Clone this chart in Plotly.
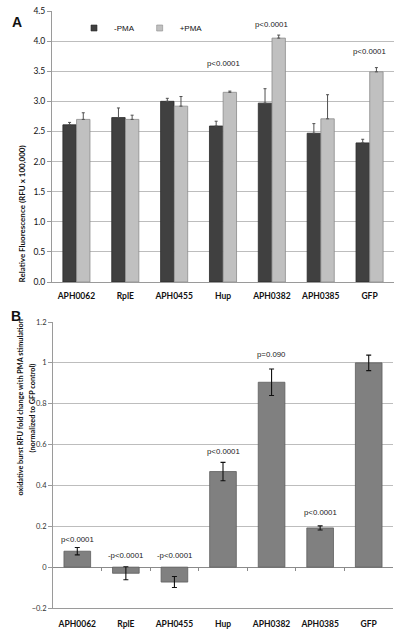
import plotly.graph_objects as go

W, H = 397, 631

categories = ["APH0062", "RplE", "APH0455", "Hup", "APH0382", "APH0385", "GFP"]

# Panel A: relative fluorescence (RFU x 100,000)
minus_pma = [2.61, 2.73, 3.00, 2.59, 2.97, 2.47, 2.31]
minus_pma_err = [0.04, 0.16, 0.05, 0.08, 0.24, 0.16, 0.06]
plus_pma = [2.70, 2.70, 2.92, 3.15, 4.05, 2.71, 3.49]
plus_pma_err = [0.11, 0.07, 0.16, 0.02, 0.05, 0.40, 0.07]

a_note_cats = ["Hup", "APH0382", "GFP"]
a_note_text = ["p<0.0001", "p<0.0001", "p<0.0001"]
a_note_y = [3.63, 4.28, 3.82]

# Panel B: fold change normalized to GFP control
fold_change = [0.078, -0.030, -0.073, 0.468, 0.905, 0.192, 1.0]
fold_err = [0.018, 0.032, 0.027, 0.045, 0.065, 0.010, 0.038]

b_note_text = ["p<0.0001", "-p<0.0001", "-p<0.0001", "p<0.0001", "p=0.090", "p<0.0001", ""]
b_note_y = [0.137, 0.059, 0.059, 0.566, 1.04, 0.268, None]

a_yticks = [0, 0.5, 1.0, 1.5, 2.0, 2.5, 3.0, 3.5, 4.0, 4.5]
b_yticks = [-0.2, 0, 0.2, 0.4, 0.6, 0.8, 1.0, 1.2]

def px_x(p):
    return p / W

def px_y(p):
    return 1 - p / H

A_dom_x = [px_x(52), px_x(394)]
A_dom_y = [px_y(282), px_y(11)]
B_dom_x = [px_x(53), px_x(393)]
B_dom_y = [px_y(608), px_y(322)]
B_range = [-0.2, 1.2]

DARK = "#404040"
LIGHT = "#c0c0c0"
MID = "#808080"
GRID = "#bdbdbd"
AXIS = "#9a9a9a"
FONT = "Lato"

fig = go.Figure()

fig.add_trace(go.Bar(
    x=categories, y=minus_pma, name="-PMA", xaxis="x", yaxis="y",
    marker=dict(color=DARK, line=dict(color="#2a2a2a", width=0.8)),
    error_y=dict(type="data", symmetric=False, array=minus_pma_err,
                 arrayminus=[0] * len(minus_pma_err), color="#505050",
                 thickness=1, width=1.5),
    showlegend=False,
))
fig.add_trace(go.Bar(
    x=categories, y=plus_pma, name="+PMA", xaxis="x", yaxis="y",
    marker=dict(color=LIGHT, line=dict(color="#8c8c8c", width=0.8)),
    error_y=dict(type="data", symmetric=False, array=plus_pma_err,
                 arrayminus=[0] * len(plus_pma_err), color="#505050",
                 thickness=1, width=1.5),
    showlegend=False,
))
# legend entries (small square swatches)
fig.add_trace(go.Scatter(
    x=[None], y=[None], mode="markers", name="-PMA", xaxis="x", yaxis="y",
    marker=dict(symbol="square", size=6, color=DARK, line=dict(color="#2a2a2a", width=0.6)),
))
fig.add_trace(go.Scatter(
    x=[None], y=[None], mode="markers", name="+PMA", xaxis="x", yaxis="y",
    marker=dict(symbol="square", size=6, color=LIGHT, line=dict(color="#8c8c8c", width=0.6)),
))

fig.add_trace(go.Bar(
    x=categories, y=fold_change, xaxis="x2", yaxis="y2",
    marker=dict(color=MID, line=dict(color="#5e5e5e", width=0.8)),
    error_y=dict(type="data", array=fold_err, color="#111111", thickness=1.1, width=2.5),
    showlegend=False,
))

# dummy trace so xaxis3 (tick marks on the zero line) is drawn
fig.add_trace(go.Scatter(x=categories, y=[None] * len(categories), xaxis="x3", yaxis="y2",
                         mode="markers", showlegend=False, hoverinfo="skip"))

tickfont_a = dict(family=FONT, size=8.5, color="#111")
catfont = dict(family=FONT, size=8.5, color="#111", weight="bold")
notefont = dict(family="Liberation Sans", size=7.8, color="#222")

fig.update_layout(
    template="none",
    width=W, height=H,
    margin=dict(l=0, r=0, t=0, b=0, pad=0, autoexpand=False),
    paper_bgcolor="white", plot_bgcolor="white",
    barmode="group", bargap=0.44, bargroupgap=0.02,
    font=dict(family=FONT, color="#222"),
    legend=dict(orientation="h", x=px_x(74), y=px_y(28), xanchor="left", yanchor="middle",
                font=dict(family="Liberation Sans", size=8, color="#111"),
                itemsizing="trace", bgcolor="rgba(0,0,0,0)", tracegroupgap=0),
    xaxis=dict(domain=A_dom_x, anchor="y", showgrid=False, showline=True, automargin=False,
               linecolor=AXIS, linewidth=1, ticks="", tickfont=catfont,
               ticklabelstandoff=6, zeroline=False),
    yaxis=dict(domain=A_dom_y, anchor="x", range=[0, 4.5], tickvals=a_yticks, automargin=False,
               tickformat=".1f", showgrid=True, gridcolor=GRID, gridwidth=1,
               showline=True, linecolor=AXIS, ticks="outside", ticklen=4,
               tickcolor=AXIS, tickfont=tickfont_a, zeroline=False),
    xaxis2=dict(domain=B_dom_x, anchor="y2", showgrid=False, showline=True, automargin=False,
                linecolor=AXIS, linewidth=1, ticks="", tickfont=catfont,
                ticklabelstandoff=8, zeroline=False),
    yaxis2=dict(domain=B_dom_y, anchor="x2", range=B_range, tickvals=b_yticks, automargin=False,
                showgrid=True, gridcolor=GRID, gridwidth=1,
                showline=True, linecolor=AXIS, ticks="outside", ticklen=4,
                tickcolor=AXIS, tickfont=dict(family=FONT, size=7.5, color="#333"),
                zeroline=True, zerolinecolor="#8a8a8a", zerolinewidth=1),
    xaxis3=dict(domain=B_dom_x, overlaying="x2", matches="x2", anchor="free", automargin=False,
                position=B_dom_y[0] + (0 - B_range[0]) / (B_range[1] - B_range[0]) * (B_dom_y[1] - B_dom_y[0]),
                showgrid=False, showline=False, showticklabels=False, zeroline=False,
                ticks="outside", ticklen=3, tickcolor="#8a8a8a",
                tickmode="array", tickvals=[i - 0.5 for i in range(1, len(categories))]),
)

ann = []
for c, t, yv in zip(a_note_cats, a_note_text, a_note_y):
    ann.append(dict(x=c, y=yv, xref="x", yref="y", text=t, showarrow=False, font=notefont))
for c, t, yv in zip(categories, b_note_text, b_note_y):
    if t and yv is not None:
        ann.append(dict(x=c, y=yv, xref="x2", yref="y2", text=t, showarrow=False, font=notefont))

ann += [
    dict(x=px_x(10), y=px_y(12), xref="paper", yref="paper", text="<b>A</b>",
         showarrow=False, font=dict(family="Liberation Sans", size=14, color="#111")),
    dict(x=px_x(9), y=px_y(316), xref="paper", yref="paper", text="<b>B</b>",
         showarrow=False, font=dict(family="Liberation Sans", size=14, color="#111")),
    dict(x=px_x(15), y=px_y(144), xref="paper", yref="paper",
         text="<b>Relative Fluorescence (RFU x 100,000)</b>", textangle=-90,
         showarrow=False, font=dict(family=FONT, size=8, color="#111")),
    dict(x=px_x(13), y=px_y(408), xref="paper", yref="paper",
         text="<b>oxidative burst RFU fold change with PMA stimulation</b>", textangle=-90,
         showarrow=False, font=dict(family=FONT, size=7.3, color="#111")),
    dict(x=px_x(25), y=px_y(408), xref="paper", yref="paper",
         text="<b>(normalized to GFP control)</b>", textangle=-90,
         showarrow=False, font=dict(family=FONT, size=7.3, color="#111")),
]
fig.update_layout(annotations=ann)

fig.write_html(
    "out.html",
    config={"displayModeBar": False},
    post_script="document.body.style.margin='0';document.body.style.padding='0';document.body.style.overflow='hidden';",
)
